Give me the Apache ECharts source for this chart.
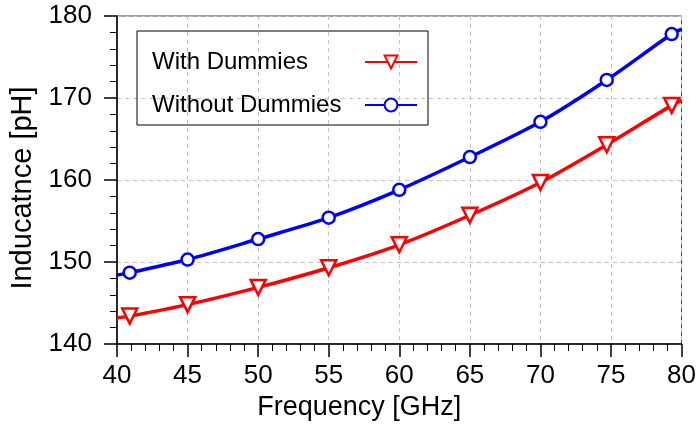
<!DOCTYPE html>
<html>
<head>
<meta charset="utf-8">
<script src="https://cdn.jsdelivr.net/npm/echarts@6/dist/echarts.min.js"></script>
<style>
    html, body { margin: 0; padding: 0; background: #fff; }
    #chart { width: 699px; height: 426px; }
</style>
</head>
<body>
<div id="chart"></div>
<script>
// 频率点 (GHz)，标记位置
const freqs = [40.9, 45, 50, 55, 60, 65, 70, 74.7, 79.3];
const withDummies = [143.4, 144.8, 146.9, 149.3, 152.1, 155.7, 159.7, 164.3, 169.1];
const withoutDummies = [148.7, 150.3, 152.8, 155.4, 158.8, 162.8, 167.1, 172.2, 177.8];
// 曲线在坐标轴两端的值 (40 / 80 GHz)
const withEnds = [143.2, 169.7];
const withoutEnds = [148.4, 178.4];

const FONT = "Liberation Sans";

function buildData(vals, ends) {
    const pts = freqs.map((f, i) => [f, vals[i]]);
    return [
        { value: [40, ends[0]], symbol: "none" },
        ...pts,
        { value: [80, ends[1]], symbol: "none" },
    ];
}

const chart = echarts.init(document.getElementById("chart"));
chart.setOption({
    animation: false,
    grid: { left: 117, right: 15, top: 16, bottom: 82, show: true, borderColor: "#444", borderWidth: 1 },
    legend: {
        orient: "vertical",
        left: 137,
        top: 31,
        padding: [19, 10, 8, 15],
        itemGap: 19,
        itemWidth: 52,
        itemHeight: 16,
        align: "right",
        borderColor: "#000",
        borderWidth: 1,
        formatter: (name) => `{t|${name}}`,
        textStyle: {
            fontFamily: FONT, fontSize: 24, color: "#000",
            rich: { t: { fontFamily: FONT, fontSize: 24, color: "#000", width: 208, align: "left" } },
        },
        data: ["With Dummies", "Without Dummies"],
    },
    xAxis: {
        type: "value",
        min: 40, max: 80, interval: 5,
        name: "Frequency [GHz]",
        nameLocation: "middle",
        nameGap: 48,
        nameTextStyle: { fontFamily: FONT, fontSize: 27, color: "#000", padding: [0, 80, 0, 0] },
        axisLine: { lineStyle: { color: "#000", width: 1.5 } },
        axisTick: { show: true, length: 13, lineStyle: { color: "#000", width: 1.5 } },
        minorTick: { show: true, splitNumber: 5, length: 7, lineStyle: { color: "#000", width: 1 } },
        axisLabel: { fontFamily: FONT, fontSize: 26, color: "#000", margin: 19 },
        splitLine: { show: true, lineStyle: { color: "#c4c4c4", type: [4, 4], width: 1 } },
    },
    yAxis: {
        type: "value",
        min: 140, max: 180, interval: 10,
        name: "Inducatnce [pH]",
        nameLocation: "middle",
        nameGap: 72,
        nameTextStyle: { fontFamily: FONT, fontSize: 29, color: "#000", padding: [0, 16, 0, 0] },
        axisLine: { show: true, lineStyle: { color: "#000", width: 1.5 } },
        axisTick: { show: true, length: 13, lineStyle: { color: "#000", width: 1.5 } },
        minorTick: { show: true, splitNumber: 5, length: 7, lineStyle: { color: "#000", width: 1 } },
        axisLabel: { fontFamily: FONT, fontSize: 26, color: "#000", margin: 25 },
        splitLine: { show: true, lineStyle: { color: "#c4c4c4", type: [4, 4], width: 1 } },
    },
    series: [
        {
            name: "With Dummies",
            type: "line",
            smooth: 0.3,
            data: buildData(withDummies, withEnds),
            symbol: "triangle",
            symbolRotate: 180,
            symbolSize: 15,
            lineStyle: { color: "#ff0000", width: 3.5 },
            itemStyle: { color: "#fff", borderColor: "#ff0000", borderWidth: 2.5 },
            z: 3,
        },
        {
            name: "Without Dummies",
            type: "line",
            smooth: 0.3,
            data: buildData(withoutDummies, withoutEnds),
            symbol: "circle",
            symbolSize: 12,
            lineStyle: { color: "#0000ff", width: 3.5 },
            itemStyle: { color: "#fff", borderColor: "#0000ff", borderWidth: 2.5 },
            z: 3,
        },
    ],
});
</script>
</body>
</html>
